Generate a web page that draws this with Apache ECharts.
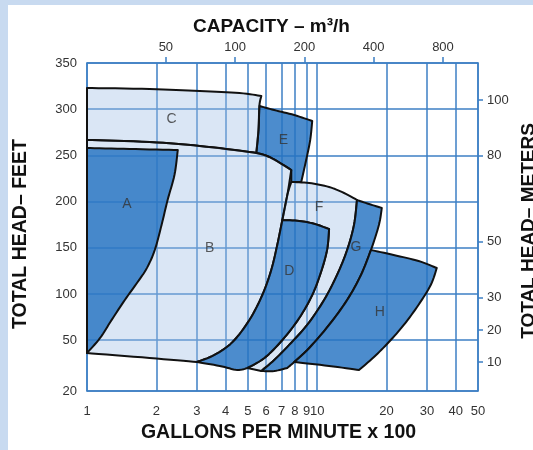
<!DOCTYPE html>
<html><head><meta charset="utf-8">
<script src="https://cdn.jsdelivr.net/npm/echarts@6/dist/echarts.min.js"></script>
<style>html,body{margin:0;padding:0;background:#fff}#c{width:533px;height:450px}</style>
</head><body><div id="c"></div>
<script>
// ---------------- data (x = US gallons per minute x 100, y = total head in feet) ----------------
const gpmTicks = [1,2,3,4,5,6,7,8,9,10,20,30,40,50];
const m3hTicks = [50,100,200,400,800];
const feetTicks = [20,50,100,150,200,250,300,350];
const meterTicks = [10,20,30,50,80,100];
const meterTickFeet = [37,61,96,157,250,310];   // feet level at which each meter tick is printed

const regionE = [
  [[5.61,303.5],[6.51,299.1],[7.95,293.7],[9.52,287.2]],
  [[9.52,287.2],[9.33,266.7],[8.96,245],[8.53,221.2]],
  [[8.53,221.2],[7.72,221.2]],
  [[7.72,221.2],[7.72,234.2]],
  [[7.72,234.2],[6.2,248.3],[5.44,252.6]],
  [[5.44,252.6],[5.56,277.5],[5.61,303.5]]
];
const regionC = [
  [[1,322.9],[1.87,321.9],[3.09,319.7],[4.6,317.5],[5.72,314.3]],
  [[5.72,314.3],[5.61,303.5],[5.56,277.5],[5.44,252.6]],
  [[5.44,252.6],[5.08,253.7],[3.09,260.2],[1.87,264.5],[1,266.7]],
  [[1,266.7],[1,322.9]]
];
const regionB = [
  [[1,266.7],[1.87,264.5],[3.09,260.2],[5.08,253.7],[6.2,248.3],[7.72,234.2]],
  [[7.72,234.2],[7.42,207],[7.06,180],[6.71,153],[6.32,126],[5.78,98.9],[5.08,71.9],[4.29,48.9],[3.58,41.3],[3.0,37.1]],
  [[3.0,37.1],[1.87,39.5],[1,42.4]],
  [[1,42.4],[1,266.7]]
];
const regionA = [
  [[1,258],[1.53,257],[2.48,255.8]],
  [[2.48,255.8],[2.4,229],[2.24,201.7],[2.11,175],[1.97,147.6],[1.82,128],[1.66,113],[1.46,93.5],[1.28,72],[1.14,52.4],[1,42.4]],
  [[1,42.4],[1,258]]
];
const regionF = [
  [[7.72,221.2],[9.24,220.1],[11.27,215.8],[13.09,209.3],[14.9,201.7]],
  [[14.9,201.7],[14.46,174.7],[13.5,147.6],[12.2,120.5],[10.72,93.5],[9.05,66.5],[7.56,47.2],[6.51,38.3],[5.72,31.8]],
  [[5.72,31.8],[4.98,33.6]],
  [[4.98,33.6],[5.9,39.5],[7.06,50.2],[8.36,74],[9.52,98.9],[10.4,124],[11.05,148],[11.27,170.3]],
  [[11.27,170.3],[9.7,176],[8.36,179],[7.06,180]],
  [[7.06,180],[7.42,207],[7.72,221.2]]
];
const regionD = [
  [[3.0,37.1],[3.58,41.3],[4.29,48.9],[5.08,71.9],[5.78,98.9],[6.32,126],[6.71,153],[7.06,180]],
  [[7.06,180],[8.36,179],[9.7,176],[11.27,170.3]],
  [[11.27,170.3],[11.05,148],[10.4,124],[9.52,98.9],[8.36,74],[7.06,50.2],[5.9,39.5],[4.98,33.6]],
  [[4.98,33.6],[4.5,32.4],[3.77,34.8],[3.0,37.1]]
];
const regionG = [
  [[14.9,201.7],[16.8,197.4],[19.1,193.1]],
  [[19.1,193.1],[18.55,174.7],[17.13,147.6],[15.5,120.5],[13.5,93.5],[11.27,66.5],[9.24,45.4],[7.95,37.1],[7.42,33.6]],
  [[7.42,33.6],[6.51,31.8],[5.72,31.8]],
  [[5.72,31.8],[6.51,38.3],[7.56,47.2],[9.05,66.5],[10.72,93.5],[12.2,120.5],[13.5,147.6],[14.46,174.7],[14.9,201.7]]
];
const regionH = [
  [[17.13,147.6],[21.5,142.2],[27.6,135.7],[33.1,128.1]],
  [[33.1,128.1],[31.2,110],[27.6,88.4],[23.8,66.5],[20.5,48.9],[17.66,40.1],[15.2,32.4]],
  [[15.2,32.4],[11.27,34.8],[7.95,37.1]],
  [[7.95,37.1],[9.24,45.4],[11.27,66.5],[13.5,93.5],[15.5,120.5],[17.13,147.6]]
];
const drawOrder = ['E','C','B','A','F','D','G','H'];
const regionShapes = {A:regionA,B:regionB,C:regionC,D:regionD,E:regionE,F:regionF,G:regionG,H:regionH};
const darkRegions = ['A','D','E','G','H'];

const labelNames = ['A','B','C','D','E','F','G','H'];
const labelGpm  = [1.49,3.41,2.33,7.56,7.13,10.2,14.75,18.74];
const labelFeet = [197,150,289,125,266,194,151,80];

// ---------------- helpers ----------------
const M3H_PER_100GPM = 22.712;
// the printed head scale is compressed differently below 50 ft (20 ft sits at the bottom frame)
const yMap = ft => ft >= 50 ? ft : 50 - (50 - ft) * 55 / 30;
const yUnmap = u => u >= 50 ? u : 50 - (50 - u) * 30 / 55;

const LINE = '#3d7fc4';
const DARK = 'rgba(36,115,194,0.82)';
const LIGHT = 'rgba(162,192,230,0.40)';
const FONT = '"Liberation Sans", Arial, Helvetica, sans-serif';

function spline(pts) {
  if (pts.length < 3) return pts.slice();
  const out = [];
  const n = pts.length;
  for (let i = 0; i < n - 1; i++) {
    const p0 = pts[Math.max(i - 1, 0)], p1 = pts[i], p2 = pts[i + 1], p3 = pts[Math.min(i + 2, n - 1)];
    for (let k = 0; k < 8; k++) {
      const s = k / 8, s2 = s * s, s3 = s2 * s;
      const f = j => 0.5 * (2 * p1[j] + (-p0[j] + p2[j]) * s + (2 * p0[j] - 5 * p1[j] + 4 * p2[j] - p3[j]) * s2 + (-p0[j] + 3 * p1[j] - 3 * p2[j] + p3[j]) * s3);
      out.push([f(0), f(1)]);
    }
  }
  out.push(pts[n - 1]);
  return out;
}

const chart = echarts.init(document.getElementById('c'), null, {renderer: 'canvas'});
const feetPos = feetTicks.map(yMap);
const meterPos = meterTickFeet.map(yMap);

const option = {
  animation: false,
  backgroundColor: '#c8daf0',
  graphic: [{type: 'rect', z: -100, silent: true, shape: {x: 8, y: 5, width: 525, height: 445}, style: {fill: '#ffffff'}}],
  grid: {left: 87, right: 55, top: 63, bottom: 59, show: false, containLabel: false, outerBoundsMode: 'none'},
  xAxis: [
    {
      type: 'log', logBase: 10, min: 1, max: 50, position: 'bottom',
      axisLine: {show: true, onZero: false, lineStyle: {color: LINE, width: 1.5}},
      axisTick: {show: false, customValues: gpmTicks},
      axisLabel: {customValues: gpmTicks, color: '#333', fontSize: 13, margin: 14, fontFamily: FONT, formatter: v => String(Math.round(v))},
      splitLine: {show: true, lineStyle: {color: LINE, width: 1.5}},
      name: 'GALLONS PER MINUTE x 100', nameLocation: 'middle', nameGap: 28,
      nameTextStyle: {fontSize: 19.5, fontWeight: 'bold', color: '#111', fontFamily: FONT, padding: [0, 8, 0, 0]}
    },
    {
      type: 'log', logBase: 10, min: M3H_PER_100GPM * 1, max: M3H_PER_100GPM * 50, position: 'top',
      axisLine: {show: true, onZero: false, lineStyle: {color: LINE, width: 1.5}},
      axisTick: {show: true, customValues: m3hTicks, length: 6, lineStyle: {color: LINE, width: 1.5}},
      axisLabel: {customValues: m3hTicks, color: '#333', fontSize: 13, margin: 9, fontFamily: FONT, formatter: v => String(Math.round(v))},
      splitLine: {show: false},
      name: 'CAPACITY – m³/h', nameLocation: 'middle', nameGap: 25,
      nameTextStyle: {fontSize: 19, fontWeight: 'bold', color: '#111', fontFamily: FONT, padding: [0, 22, 0, 0]}
    }
  ],
  yAxis: [
    {
      type: 'value', min: yMap(20), max: 350, position: 'left',
      axisLine: {show: true, onZero: false, lineStyle: {color: LINE, width: 1.5}},
      axisTick: {show: false, customValues: feetPos},
      axisLabel: {customValues: feetPos, color: '#333', fontSize: 13, margin: 10, fontFamily: FONT, formatter: v => String(Math.round(yUnmap(v)))},
      splitLine: {show: true, lineStyle: {color: LINE, width: 1.5}},
      name: 'TOTAL HEAD– FEET', nameLocation: 'middle', nameGap: 56,
      nameTextStyle: {fontSize: 19.5, fontWeight: 'bold', color: '#111', fontFamily: FONT, padding: [0, 14, 0, 0]}
    },
    {
      type: 'value', min: yMap(20), max: 350, position: 'right',
      axisLine: {show: true, onZero: false, lineStyle: {color: LINE, width: 1.5}},
      axisTick: {show: true, customValues: meterPos, length: 5, lineStyle: {color: LINE, width: 1.5}},
      axisLabel: {customValues: meterPos, color: '#333', fontSize: 13, margin: 9, fontFamily: FONT,
        formatter: v => { let best = 0; meterPos.forEach((p, i) => { if (Math.abs(p - v) < Math.abs(meterPos[best] - v)) best = i; }); return String(meterTicks[best]); }},
      splitLine: {show: false},
      name: 'TOTAL HEAD– METERS', nameLocation: 'middle', nameGap: 32,
      nameTextStyle: {fontSize: 19, fontWeight: 'bold', color: '#111', fontFamily: FONT, padding: [0, 8, 0, 0]}
    }
  ],
  series: [
    {
      type: 'custom', xAxisIndex: 0, yAxisIndex: 0, silent: true,
      data: drawOrder.map(k => { const i = labelNames.indexOf(k); return {name: k, value: [labelGpm[i], yMap(labelFeet[i])]}; }),
      renderItem: (params, api) => {
        const key = drawOrder[params.dataIndex];
        const pts = [];
        regionShapes[key].forEach(edge => {
          const px = edge.map(p => api.coord([p[0], yMap(p[1])]));
          const s = spline(px);
          if (pts.length) s.shift();
          s.forEach(q => pts.push(q));
        });
        return {type: 'polygon', shape: {points: pts},
          style: {fill: darkRegions.includes(key) ? DARK : LIGHT, stroke: '#111', lineWidth: 2, lineJoin: 'round'}};
      }
    },
    {
      type: 'scatter', xAxisIndex: 0, yAxisIndex: 0, silent: true, symbolSize: 1, itemStyle: {color: 'rgba(0,0,0,0)'},
      data: labelNames.map((n, i) => ({name: n, value: [labelGpm[i], yMap(labelFeet[i])]})),
      label: {show: true, position: 'inside', formatter: p => p.name, fontSize: 14, color: '#333', fontFamily: FONT},
      z: 10
    }
  ]
};
chart.setOption(option);
</script>
</body></html>
